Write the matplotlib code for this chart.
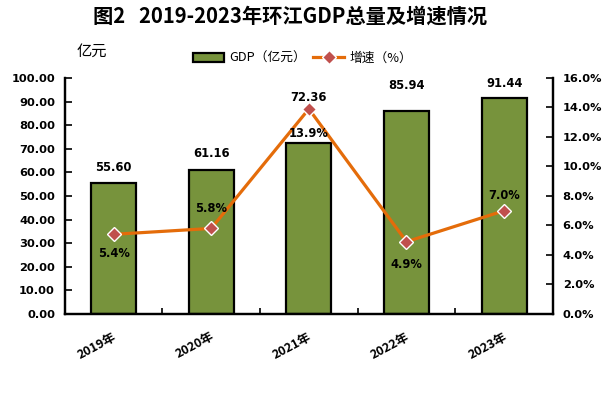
import matplotlib
matplotlib.use("Agg")
import matplotlib.pyplot as plt
import numpy as np

plt.rcParams['font.family'] = ['Noto Sans CJK SC', 'DejaVu Sans']

years = ['2019年', '2020年', '2021年', '2022年', '2023年']
gdp = [55.60, 61.16, 72.36, 85.94, 91.44]
growth = [5.4, 5.8, 13.9, 4.9, 7.0]

# label placement offsets (pixels) - styling only
gdp_label_dy = [15, 16, 46, 26, 15]
growth_label_dy = [-19, 20, -25, -23, 15]

fig = plt.figure(figsize=(6.05, 4.07), dpi=100)
ax = fig.add_axes([0.107, 0.2285, 0.807, 0.58])
ax2 = ax.twinx()

x = np.arange(len(years))
bars = ax.bar(x, gdp, width=0.46, color='#77933C', edgecolor='black', linewidth=1.6,
              label='GDP（亿元）', zorder=2)
ax.set_xlim(-0.5, len(years) - 0.5)
ax.set_ylim(0, 100)
ax.set_yticks(np.arange(0, 101, 10))
ax.set_yticklabels([f'{v:.2f}' for v in np.arange(0, 101, 10)],
                   fontsize=8.2, fontweight='bold', family=['DejaVu Sans'])
ax.tick_params(axis='y', direction='in', length=5, width=1.2, pad=7)
ax.set_xticks(np.arange(-0.5, len(years), 1))
ax.set_xticklabels([])
ax.tick_params(axis='x', direction='in', length=4, width=1.2)
for i, xi in enumerate(x):
    ax.text(xi - 0.2, -11, years[i], rotation=28, ha='center', va='top',
            fontsize=9, fontweight='bold', rotation_mode='anchor')

for xi, v, dy in zip(x, gdp, gdp_label_dy):
    ax.annotate(f'{v:.2f}', (xi, v), xytext=(0, dy), textcoords='offset pixels',
                ha='center', va='center', fontsize=8.3, fontweight='bold',
                family=['DejaVu Sans'])

ax2.set_ylim(0, 16)
ax2.set_yticks(np.arange(0, 17, 2))
ax2.set_yticklabels([f'{v:.1f}%' for v in np.arange(0, 17, 2)],
                    fontsize=8.2, fontweight='bold', family=['DejaVu Sans'])
ax2.tick_params(axis='y', direction='in', length=5, width=1.2, pad=7)
ln, = ax2.plot(x, growth, color='#E46C0A', linewidth=2.3, marker='D', markersize=7,
               markerfacecolor='#C0504D', markeredgecolor='white', markeredgewidth=1,
               label='增速（%）', zorder=3)

for xi, g, dy in zip(x, growth, growth_label_dy):
    ax2.annotate(f'{g:.1f}%', (xi, g), xytext=(0, dy), textcoords='offset pixels',
                 ha='center', va='center', fontsize=8.3, fontweight='bold',
                 family=['DejaVu Sans'])

for a in (ax, ax2):
    a.spines['top'].set_visible(False)
    for s in ('left', 'right', 'bottom'):
        a.spines[s].set_linewidth(1.6)
ax.set_zorder(ax2.get_zorder() - 1)
ax.patch.set_visible(False)

fig.text(0.48, 0.96, '图2   2019-2023年环江GDP总量及增速情况', ha='center', va='center',
         fontsize=14.6, fontweight='bold')
fig.text(0.152, 0.874, '亿元', ha='center', va='center', fontsize=11)

fig.legend(handles=[bars, ln], labels=['GDP（亿元）', '增速（%）'], loc='center',
           bbox_to_anchor=(0.5, 0.857), ncol=2, frameon=False, fontsize=9.2,
           handlelength=2.4, columnspacing=0.6, handletextpad=0.4)

fig.savefig('out.png', dpi=100)
